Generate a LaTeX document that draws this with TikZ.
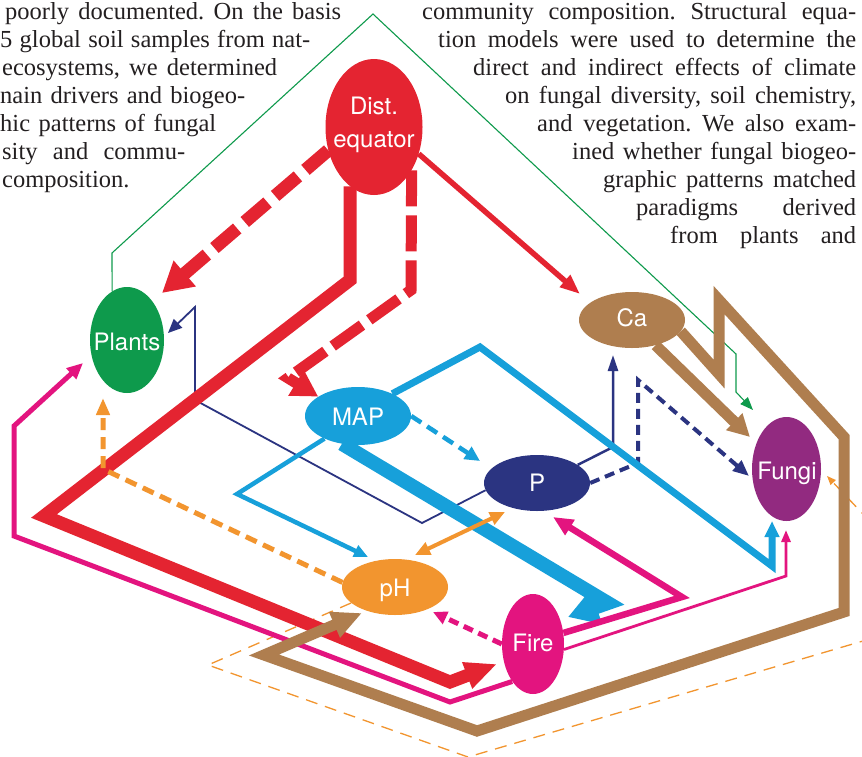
\documentclass[tikz,border=0pt]{standalone}
\usepackage{fontspec}
\setmainfont{Liberation Serif}
\newfontfamily\hel{TeX Gyre Heros}
\usetikzlibrary{arrows.meta,shapes.geometric}
\definecolor{cRed}{HTML}{E42431}
\definecolor{cGreen}{HTML}{0E9A4C}
\definecolor{cBlue}{HTML}{17A0DA}
\definecolor{cNavy}{HTML}{2B3481}
\definecolor{cBrown}{HTML}{AF7E4F}
\definecolor{cPurple}{HTML}{922A80}
\definecolor{cOrange}{HTML}{F2952F}
\definecolor{cMag}{HTML}{E3147F}
\definecolor{txt}{HTML}{231F20}
\pgfdeclarelayer{bg}
\pgfsetlayers{bg,main}
\frenchspacing
\tikzset{
 blob/.style={ellipse, inner sep=0pt, draw=none},
 lbl/.style={text=white, font=\hel\fontsize{24}{33}\selectfont, align=center, inner sep=0pt},
 body/.style={font=\fontsize{24.5}{28}\selectfont, text=txt, inner sep=0pt, anchor=base west},
 ah/.style 2 args={-{Triangle[length=#1pt,width=#2pt]}},
 link/.style={line join=miter, miter limit=10},
}
\begin{document}
\begin{tikzpicture}[x=1pt,y=-1pt]
\useasboundingbox (0,0) rectangle (862,756);

% ---------- body text ----------
\node[body] (L1) at (5,19) {\makebox[336pt][s]{poorly documented. On the basis}};
\node[body] (L2) at (0,47) {\makebox[310pt][s]{5 global soil samples from nat-}};
\node[body] (L3) at (2,75) {\makebox[275pt][s]{ecosystems, we determined}};
\node[body] (L4) at (0,103) {\makebox[245pt][s]{nain drivers and biogeo-}};
\node[body] (L5) at (0,131) {\makebox[216pt][s]{hic patterns of fungal}};
\node[body] (L6) at (2,159) {\makebox[183pt][s]{sity and commu-}};
\node[body] (L7) at (2,187) {composition.};

\node[body] (R1) at (422,19) {\makebox[434pt][s]{community composition. Structural equa-}};
\node[body] (R2) at (438,47) {\makebox[418pt][s]{tion models were used to determine the}};
\node[body] (R3) at (473,75) {\makebox[383pt][s]{direct and indirect effects of climate}};
\node[body] (R4) at (505,103) {\makebox[351pt][s]{on fungal diversity, soil chemistry,}};
\node[body] (R5) at (537,131) {\makebox[319pt][s]{and vegetation. We also exam-}};
\node[body] (R6) at (572,159) {\makebox[284pt][s]{ined whether fungal biogeo-}};
\node[body] (R7) at (603,187) {\makebox[253pt][s]{graphic patterns matched}};
\node[body] (R8) at (636,215) {\makebox[220pt][s]{paradigms derived}};
\node[body] (R9) at (670,243) {\makebox[186pt][s]{from plants and}};

% ---------- ellipses ----------
\node[blob, fill=cRed, minimum width=97pt, minimum height=136pt] (Dist) at (374,127) {};
\node[blob, fill=cGreen, minimum width=74pt, minimum height=106pt] (Plants) at (127,340) {};
\node[blob, fill=cBlue, minimum width=106pt, minimum height=58pt] (MAP) at (358,416) {};
\node[blob, fill=cNavy, minimum width=106pt, minimum height=56pt] (P) at (537,483) {};
\node[blob, fill=cBrown, minimum width=106pt, minimum height=56pt] (Ca) at (632,320) {};
\node[blob, fill=cPurple, minimum width=69pt, minimum height=104pt] (Fungi) at (786.5,469) {};
\node[blob, fill=cOrange, minimum width=106pt, minimum height=56pt] (pH) at (395,587) {};
\node[blob, fill=cMag, minimum width=62pt, minimum height=100pt] (Fire) at (533,644) {};

\node[lbl] (DistT) at (374,125) {Dist.\\equator};
\node[lbl] (PlantsT) at (127,342) {Plants};
\node[lbl] (MAPT) at (358,417) {MAP};
\node[lbl] (PT) at (537,483) {P};
\node[lbl] (CaT) at (632,318) {Ca};
\node[lbl] (FungiT) at (787,473) {Fungi};
\node[lbl] (pHT) at (395,590) {pH};
\node[lbl] (FireT) at (533,643) {Fire};

% free ends
\coordinate (gTip) at (753,410);
\coordinate (oTip) at (827,476);
\coordinate (nTip1) at (168,333);
\coordinate (nTip2) at (613,355);
\coordinate (nTip3) at (749,476);
\coordinate (bTip1) at (568,617);
\coordinate (bTip2) at (772,521);
\coordinate (bTip3) at (368,557);
\coordinate (bTip4) at (480,461);
\coordinate (rTip1) at (497,664);
\coordinate (rTip2) at (162,293);
\coordinate (rTip3) at (580,294);
\coordinate (mTip1) at (433,612);
\coordinate (mTip2) at (553,517);
\coordinate (mTip3) at (786,530);
\coordinate (mTip4) at (83,363);
\coordinate (brTip1) at (750,437);
\coordinate (brTip2) at (362,613);
\coordinate (oTip1) at (103,398);
\coordinate (oA) at (415,555);
\coordinate (oB) at (505,512);

\begin{pgfonlayer}{bg}
\fill[white] (0,0) rectangle (862,756);
% green
\draw[link, cGreen, line width=1.1pt, ah={13}{10}] (Plants.107) -- (112,253) -- (373,14) -- (736,354) -- (736,392) -- (gTip);
% thin orange dashed loop
\draw[link, cOrange, line width=1.3pt, dash pattern=on 12pt off 8pt, ah={9}{7}] (pH.200) -- (208,665) -- (468,757) -- (880,636) -- (880,532) -- (oTip);
% navy
\draw[link, cNavy, line width=1.8pt, ah={14}{12}] (P.188) -- (422,523) -- (195,400) -- (195,307) -- (nTip1);
\draw[link, cNavy, line width=2.5pt, ah={16}{10}] (P.24) -- (613,447) -- (nTip2);
\draw[link, cNavy, line width=4pt, dash pattern=on 10pt off 6pt, ah={16}{13}] (P.east) -- (638,463) -- (638,380) -- (nTip3);
% blue
\draw[link, cBlue, line width=14pt, ah={30}{34}] (MAP.240) -- (608,603) -- (bTip1);
\draw[link, cBlue, line width=7pt, ah={16}{14}] (MAP.33) -- (480,347) -- (772,566) -- (bTip2);
\draw[link, cBlue, line width=4.5pt, ah={14}{12}] (MAP.214) -- (237,494) -- (bTip3);
\draw[link, cBlue, line width=4.5pt, dash pattern=on 12pt off 7pt, ah={15}{14}] (MAP.east) -- (bTip4);
% red
\draw[link, cRed, line width=13pt, ah={32}{26}] (Dist.248) -- (350,280) -- (44,516) -- (450,682) -- (rTip1);
\draw[link, cRed, line width=13pt, dash pattern=on 30pt off 10pt, ah={30}{32}] (Dist.207) -- (rTip2);
\draw[link, cRed, line width=11pt, dash pattern=on 36pt off 9pt, ah={26}{28}] (Dist.311) -- (411,290) -- (288,378) -- (MAP.154);
\draw[link, cRed, line width=5.5pt, ah={20}{15}] (Dist.329) -- (rTip3);
% orange
\draw[link, cOrange, line width=5pt, dash pattern=on 12pt off 7pt, ah={17}{13}] (pH.175) -- (103,469) -- (oTip1);
\draw[cOrange, line width=4pt, {Triangle[length=15pt,width=13pt]}-{Triangle[length=15pt,width=13pt]}] (oA) -- (oB);
% magenta
\draw[link, cMag, line width=5pt, dash pattern=on 10pt off 6pt, ah={14}{13}] (Fire.west) -- (mTip1);
\draw[link, cMag, line width=6.5pt, ah={20}{17}] (Fire.20) -- (682,597) -- (mTip2);
\draw[link, cMag, line width=2.8pt, ah={12}{9}] (Fire.350) -- (786,576) -- (mTip3);
\draw[link, cMag, line width=5pt, ah={16}{14}] (Fire.241) -- (450,702) -- (14,536) -- (14,426) -- (mTip4);
% brown
\draw[link, cBrown, line width=11pt, ah={22}{22}] (Ca.313) -- (brTip1);
\draw[link, cBrown, line width=11pt, ah={30}{26}] (Ca.347) -- (719,374) -- (719,300) -- (844,437) -- (844,612) -- (477,731) -- (264,655) -- (brTip2);
\end{pgfonlayer}
\end{tikzpicture}
\end{document}
